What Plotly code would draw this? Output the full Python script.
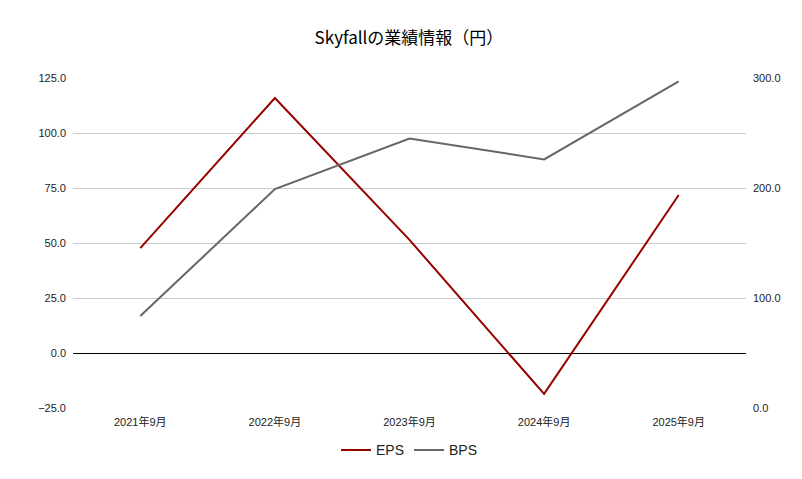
import plotly.graph_objects as go

categories = ["2021年9月", "2022年9月", "2023年9月", "2024年9月", "2025年9月"]
eps = [47.7, 115.9, 51.4, -18.6, 71.8]
bps = [83.6, 199.0, 245.0, 226.0, 297.0]
left_ticks = [-25, 0, 25, 50, 75, 100, 125]
right_ticks = [0, 100, 200, 300]

fig = go.Figure()
fig.add_trace(go.Scatter(x=categories, y=eps, name="EPS", mode="lines",
                         line=dict(color="#990000", width=2)))
fig.add_trace(go.Scatter(x=categories, y=bps, name="BPS", mode="lines", yaxis="y2",
                         line=dict(color="#666666", width=2)))
fig.update_layout(
    width=802, height=479, plot_bgcolor="white", paper_bgcolor="white",
    margin=dict(l=65, r=64, t=70, b=79, autoexpand=False),
    font=dict(family="Liberation Sans, Noto Sans CJK JP", size=11, color="#222"),
    title=dict(text="Skyfallの業績情報（円）", x=0.5, y=0.95, xanchor="center",
               font=dict(size=17, color="#000", family="Noto Sans CJK JP")),
    xaxis=dict(showgrid=False, showline=False, ticks="", range=[-0.5, 4.5],
               ticklabelstandoff=6),
    yaxis=dict(range=[-25, 125], tickvals=left_ticks, tickformat=".1f",
               gridcolor="#cccccc", zeroline=True, zerolinecolor="#000", zerolinewidth=1,
               ticklabelstandoff=6),
    yaxis2=dict(range=[0, 300], tickvals=right_ticks, tickformat=".1f",
                overlaying="y", side="right", showgrid=False, zeroline=False,
                ticklabelstandoff=6),
    legend=dict(orientation="h", x=0.5, xanchor="center", y=-0.08, yanchor="top",
                font=dict(size=14)),
)
fig.write_html("out.html")
